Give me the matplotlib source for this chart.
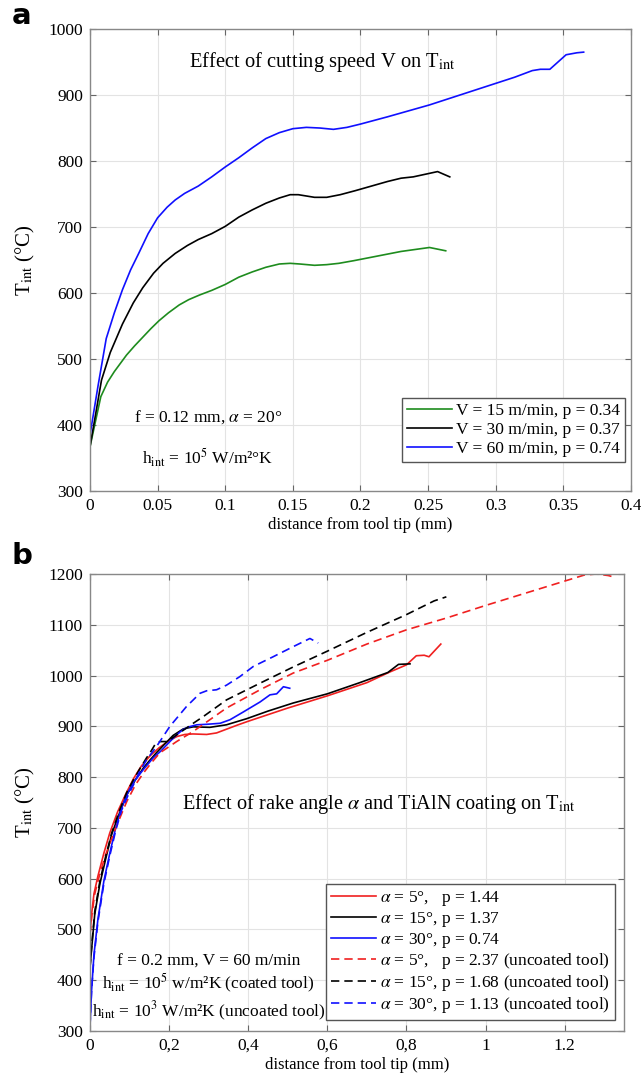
import matplotlib
matplotlib.use("Agg")
import matplotlib.pyplot as plt

plt.rcParams['font.family'] = ['Liberation Serif', 'DejaVu Serif']
plt.rcParams['mathtext.fontset'] = 'stix'

# ---- panel a: effect of cutting speed ----
xa_v15 = [0, 0.008, 0.013, 0.018, 0.027, 0.033, 0.039, 0.045, 0.051, 0.058, 0.066, 0.073,
          0.081, 0.09, 0.1, 0.11, 0.12, 0.13, 0.14, 0.148, 0.155, 0.166, 0.175, 0.184,
          0.195, 0.205, 0.23, 0.251, 0.263]
ta_v15 = [367, 443, 465, 481, 506, 520, 533, 546, 558, 570, 582, 590,
          597, 604, 613, 624, 632, 639, 644, 645, 644, 642, 643, 645,
          649, 653, 663, 669, 664]

xa_v30 = [0, 0.0085, 0.015, 0.024, 0.032, 0.039, 0.047, 0.054, 0.063, 0.072, 0.08, 0.09,
          0.1, 0.11, 0.12, 0.13, 0.14, 0.148, 0.154, 0.166, 0.175, 0.185, 0.196, 0.22,
          0.23, 0.239, 0.257, 0.266]
ta_v30 = [367, 468, 510, 553, 585, 608, 630, 645, 660, 672, 681, 690,
          701, 715, 726, 736, 744, 749, 749, 745, 745, 749, 755, 769,
          774, 776, 784, 776]

xa_v60 = [0, 0.006, 0.012, 0.018, 0.024, 0.03, 0.036, 0.043, 0.05, 0.057, 0.063, 0.07,
          0.08, 0.09, 0.1, 0.11, 0.12, 0.13, 0.14, 0.15, 0.16, 0.17, 0.18, 0.19, 0.2,
          0.22, 0.251, 0.281, 0.314, 0.327, 0.333, 0.34, 0.352, 0.36, 0.365]
ta_v60 = [385, 460, 531, 570, 605, 635, 660, 690, 714, 730, 741, 751,
          762, 776, 791, 805, 820, 834, 843, 849, 851, 850, 848, 851, 856,
          867, 885, 905, 927, 937, 939, 939, 961, 964, 965]

labels_a = ['V = 15 m/min, p = 0.34', 'V = 30 m/min, p = 0.37', 'V = 60 m/min, p = 0.74']

# ---- panel b: effect of rake angle and coating ----
xb_a5 = [0, 0.004, 0.01, 0.02, 0.035, 0.05, 0.07, 0.09, 0.11, 0.13, 0.152, 0.175, 0.2,
         0.22, 0.24, 0.26, 0.295, 0.32, 0.337, 0.371, 0.4, 0.5, 0.6, 0.7, 0.758, 0.8,
         0.825, 0.845, 0.857, 0.887]
tb_a5 = [490, 530, 570, 605, 650, 690, 732, 766, 797, 822, 842, 858, 872,
         880, 884, 885, 884, 887, 892, 902, 910, 936, 960, 986, 1007, 1021,
         1039, 1040, 1037, 1062]

xb_a15 = [0, 0.005, 0.012, 0.025, 0.04, 0.055, 0.075, 0.093, 0.115, 0.135, 0.152, 0.168,
          0.19, 0.21, 0.236, 0.261, 0.303, 0.345, 0.396, 0.45, 0.514, 0.6, 0.682, 0.753,
          0.78, 0.809]
tb_a15 = [425, 470, 530, 590, 640, 688, 730, 765, 795, 818, 834, 848,
          866, 882, 895, 899, 898, 903, 915, 930, 946, 964, 986, 1006,
          1022, 1023]

xb_a30 = [0, 0.004, 0.01, 0.02, 0.035, 0.05, 0.065, 0.08, 0.095, 0.11, 0.135, 0.16, 0.18,
          0.202, 0.22, 0.236, 0.25, 0.27, 0.295, 0.329, 0.354, 0.387, 0.43, 0.455, 0.472,
          0.489, 0.505]
tb_a30 = [310, 380, 450, 520, 595, 650, 700, 740, 768, 790, 815, 838, 852,
          870, 884, 894, 899, 903, 904, 906, 913, 928, 948, 962, 964,
          978, 975]

xb_a5u = [0, 0.005, 0.012, 0.025, 0.04, 0.06, 0.08, 0.093, 0.115, 0.135, 0.155, 0.177, 0.2,
          0.219, 0.261, 0.303, 0.345, 0.43, 0.514, 0.6, 0.7, 0.8, 0.9, 1.0, 1.1, 1.2,
          1.25, 1.28, 1.31, 1.33]
tb_a5u = [490, 530, 570, 610, 648, 690, 728, 752, 785, 808, 828, 848, 860,
          870, 890, 913, 936, 972, 1005, 1030, 1062, 1090, 1113, 1138, 1162, 1186,
          1198, 1200, 1197, 1193]

xb_a15u = [0, 0.005, 0.012, 0.025, 0.04, 0.055, 0.075, 0.093, 0.11, 0.125, 0.143, 0.152,
           0.165, 0.177, 0.195, 0.219, 0.261, 0.286, 0.345, 0.43, 0.514, 0.6, 0.7, 0.8,
           0.87, 0.901]
tb_a15u = [425, 475, 535, 595, 645, 690, 735, 770, 795, 815, 838, 848,
           865, 870, 870, 883, 906, 919, 952, 985, 1017, 1048, 1085, 1120,
           1147, 1155]

xb_a30u = [0, 0.004, 0.01, 0.02, 0.035, 0.05, 0.065, 0.08, 0.095, 0.11, 0.125, 0.143, 0.168,
           0.202, 0.244, 0.278, 0.295, 0.32, 0.345, 0.379, 0.413, 0.463, 0.514, 0.556, 0.577]
tb_a30u = [310, 380, 445, 515, 590, 645, 695, 735, 762, 785, 810, 834, 860,
           900, 939, 965, 970, 972, 981, 998, 1018, 1037, 1057, 1073, 1064]

labels_b = [r'$\alpha$ = 5°,   p = 1.44', r'$\alpha$ = 15°, p = 1.37', r'$\alpha$ = 30°, p = 0.74',
            r'$\alpha$ = 5°,   p = 2.37 (uncoated tool)', r'$\alpha$ = 15°, p = 1.68 (uncoated tool)',
            r'$\alpha$ = 30°, p = 1.13 (uncoated tool)']

xticks_b = [0, 0.2, 0.4, 0.6, 0.8, 1.0, 1.2]
xticklabels_b = ['0', '0,2', '0,4', '0,6', '0,8', '1', '1.2']

GREEN = '#1e8c1e'
BLUE = '#1010ff'
RED = '#f02020'
DASH = (0, (5, 3))


def style_axes(ax):
    for s in ax.spines.values():
        s.set_color('#888888')
        s.set_linewidth(1.0)
    ax.grid(True, color='#e3e3e3', linewidth=0.8)
    ax.set_axisbelow(True)
    ax.tick_params(direction='in', top=True, right=True, length=4, color='#666666',
                   labelsize=12.5, pad=5)


fig = plt.figure(figsize=(6.41, 10.83), dpi=100)

# panel a
ax1 = fig.add_axes([0.1404, 0.5466, 0.844, 0.4266])
ax1.plot(xa_v15, ta_v15, color=GREEN, lw=1.2, label=labels_a[0])
ax1.plot(xa_v30, ta_v30, color='black', lw=1.2, label=labels_a[1])
ax1.plot(xa_v60, ta_v60, color=BLUE, lw=1.2, label=labels_a[2])
ax1.set_xlim(0, 0.4)
ax1.set_ylim(300, 1000)
ax1.set_xticks([0, 0.05, 0.1, 0.15, 0.2, 0.25, 0.3, 0.35, 0.4])
ax1.set_xticklabels(['0', '0.05', '0.1', '0.15', '0.2', '0.25', '0.3', '0.35', '0.4'])
ax1.set_yticks(range(300, 1001, 100))
style_axes(ax1)
ax1.set_xlabel('distance from tool tip (mm)', fontsize=12, labelpad=2)
ax1.set_ylabel(r'T$_{\rm int}$ (°C)', fontsize=15, labelpad=8)
ax1.text(0.172, 950, r'Effect of cutting speed V on T$_{\rm int}$', fontsize=14.8, ha='center', va='center')
ax1.text(0.087, 412, r'f = 0.12 mm, $\alpha$ = 20°', fontsize=12.5, ha='center', va='center')
ax1.text(0.087, 350, r'h$_{\rm int}$ = 10$^5$ W/m²°K', fontsize=12.5, ha='center', va='center')
leg1 = ax1.legend(loc='lower right', bbox_to_anchor=(0.989, 0.063), borderaxespad=0,
                  fontsize=12.5, fancybox=False, framealpha=1, edgecolor='#555555',
                  handlelength=2.6, handletextpad=0.2, labelspacing=0.15, borderpad=0.3)
leg1.get_frame().set_linewidth(1.0)

# panel b
ax2 = fig.add_axes([0.1404, 0.048, 0.833, 0.422])
ax2.plot(xb_a5, tb_a5, color=RED, lw=1.2, label=labels_b[0])
ax2.plot(xb_a15, tb_a15, color='black', lw=1.2, label=labels_b[1])
ax2.plot(xb_a30, tb_a30, color=BLUE, lw=1.2, label=labels_b[2])
ax2.plot(xb_a5u, tb_a5u, color=RED, lw=1.2, linestyle=DASH, label=labels_b[3])
ax2.plot(xb_a15u, tb_a15u, color='black', lw=1.2, linestyle=DASH, label=labels_b[4])
ax2.plot(xb_a30u, tb_a30u, color=BLUE, lw=1.2, linestyle=DASH, label=labels_b[5])
ax2.set_xlim(0, 1.35)
ax2.set_ylim(300, 1200)
ax2.set_xticks(xticks_b)
ax2.set_xticklabels(xticklabels_b)
ax2.set_yticks(range(300, 1201, 100))
style_axes(ax2)
ax2.set_xlabel('distance from tool tip (mm)', fontsize=12, labelpad=2)
ax2.set_ylabel(r'T$_{\rm int}$ (°C)', fontsize=15, labelpad=8)
ax2.text(0.73, 747, r'Effect of rake angle $\alpha$ and TiAlN coating on T$_{\rm int}$',
         fontsize=14.6, ha='center', va='center')
ax2.text(0.30, 436, 'f = 0.2 mm, V = 60 m/min', fontsize=12.5, ha='center', va='center')
ax2.text(0.30, 393, r'h$_{\rm int}$ = 10$^5$ w/m²K (coated tool)', fontsize=12.5, ha='center', va='center')
ax2.text(0.30, 338, r'h$_{\rm int}$ = 10$^3$ W/m²K (uncoated tool)', fontsize=12.5, ha='center', va='center')
leg2 = ax2.legend(loc='lower right', bbox_to_anchor=(0.983, 0.024), borderaxespad=0,
                  fontsize=12.5, fancybox=False, framealpha=1, edgecolor='#555555',
                  handlelength=2.6, handletextpad=0.2, labelspacing=0.1, borderpad=0.3)
leg2.get_frame().set_linewidth(1.0)

fig.text(0.018, 0.998, 'a', fontsize=21, fontweight='bold', family='DejaVu Sans', va='top')
fig.text(0.018, 0.500, 'b', fontsize=21, fontweight='bold', family='DejaVu Sans', va='top')

fig.savefig('out.png', dpi=100)
